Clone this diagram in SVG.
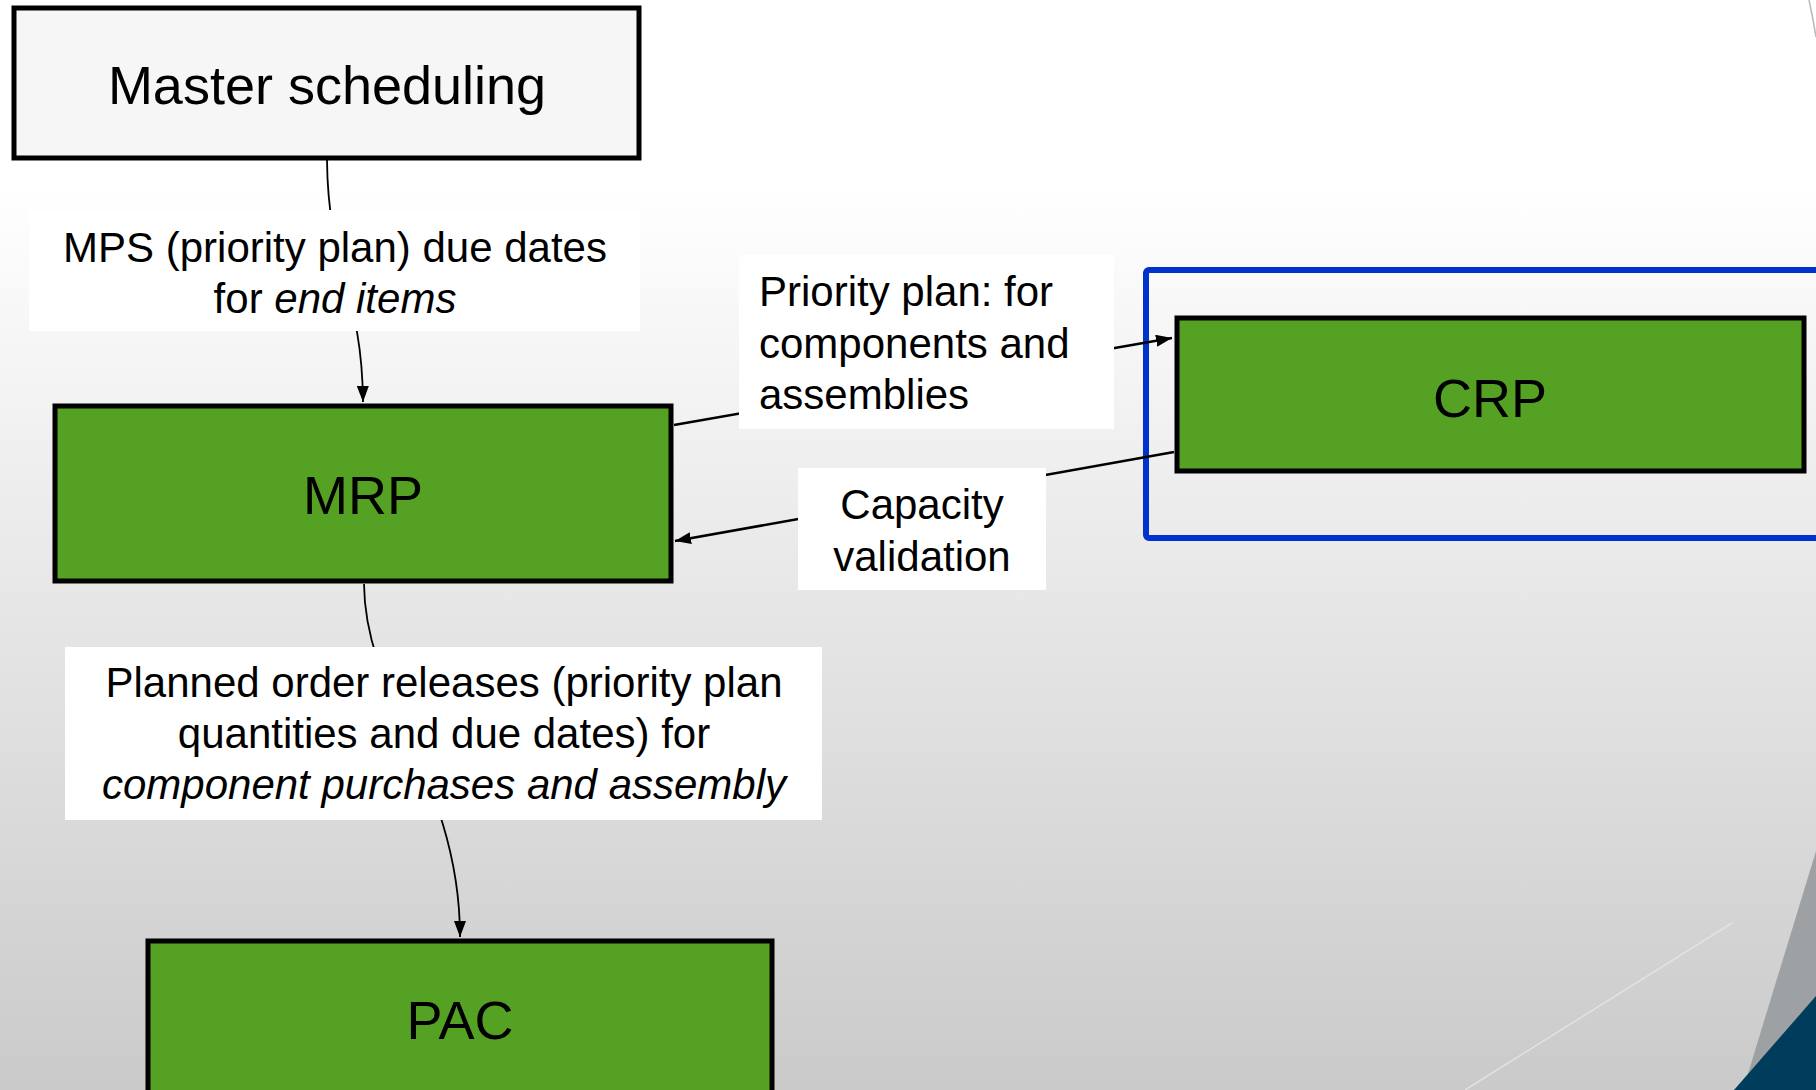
<svg xmlns="http://www.w3.org/2000/svg" width="1816" height="1090" viewBox="0 0 1816 1090">
<defs>
<linearGradient id="bg" x1="0" y1="0" x2="0" y2="1">
<stop offset="0" stop-color="#ffffff"/>
<stop offset="0.17" stop-color="#ffffff"/>
<stop offset="1" stop-color="#cacaca"/>
</linearGradient>
<marker id="arr" viewBox="0 0 16 12" refX="16" refY="6" markerWidth="16" markerHeight="12" markerUnits="userSpaceOnUse" orient="auto">
<path d="M0,0 L16,6 L0,12 Z" fill="#000"/>
</marker>
<style>
.node{stroke:#000;stroke-width:5}
.green{fill:#55a123}
.ntext{font-family:"Liberation Sans",Arial,sans-serif;font-size:54px;fill:#000;text-anchor:middle}
.lbl{fill:#fff}
.ltext{font-family:"Liberation Sans",Arial,sans-serif;font-size:42px;fill:#000}
.conn{fill:none;stroke:#000}
</style>
</defs>
<rect x="0" y="0" width="1816" height="1090" fill="url(#bg)"/>
<g id="decor">
<path d="M1809,0 Q1813,18 1816,37" fill="none" stroke="#b8b8b8" stroke-width="1.5"/>
<line x1="1465" y1="1090" x2="1732" y2="923" stroke="#e2e2e2" stroke-width="1.5"/>
<polygon points="1816,851 1816,1090 1743,1090" fill="#9ea1a3"/>
<polygon points="1816,996 1816,1090 1734,1090" fill="#003d5c"/>
</g>
<g id="crp-frame">
<rect x="1146" y="270" width="700" height="268" rx="3" fill="none" stroke="#0033cc" stroke-width="6"/>
</g>
<g id="connectors">
<path class="conn" stroke-width="1.8" d="M327,160 C328,270 362,290 363,402" marker-end="url(#arr)"/>
<line class="conn" stroke-width="2.5" x1="674" y1="425" x2="1172" y2="338" marker-end="url(#arr)"/>
<line class="conn" stroke-width="2.5" x1="1174" y1="452" x2="675" y2="541" marker-end="url(#arr)"/>
<path class="conn" stroke-width="1.8" d="M364,584 C365,700 460,780 460,937" marker-end="url(#arr)"/>
</g>
<g id="master-scheduling">
<rect class="node" x="14" y="8" width="625" height="150" fill="#f6f6f6"/>
<text class="ntext" x="327" y="104">Master scheduling</text>
</g>
<g id="mrp">
<rect class="node green" x="55" y="406" width="616" height="175"/>
<text class="ntext" x="363" y="514">MRP</text>
</g>
<g id="crp">
<rect class="node green" x="1177" y="318" width="627" height="153"/>
<text class="ntext" x="1490" y="417">CRP</text>
</g>
<g id="pac">
<rect class="node green" x="148" y="941" width="624" height="200"/>
<text class="ntext" x="460" y="1039">PAC</text>
</g>
<g id="label-mps">
<rect class="lbl" x="29" y="210" width="611" height="121"/>
<text class="ltext" text-anchor="middle" x="335" y="262">MPS (priority plan) due dates</text>
<text class="ltext" text-anchor="middle" x="335" y="313">for <tspan font-style="italic">end items</tspan></text>
</g>
<g id="label-priority">
<rect class="lbl" x="739" y="255" width="375" height="174"/>
<text class="ltext" x="759" y="306">Priority plan: for</text>
<text class="ltext" x="759" y="358">components and</text>
<text class="ltext" x="759" y="409">assemblies</text>
</g>
<g id="label-capacity">
<rect class="lbl" x="798" y="468" width="248" height="122"/>
<text class="ltext" text-anchor="middle" x="922" y="519">Capacity</text>
<text class="ltext" text-anchor="middle" x="922" y="571">validation</text>
</g>
<g id="label-planned">
<rect class="lbl" x="65" y="647" width="757" height="173"/>
<text class="ltext" text-anchor="middle" x="444" y="697">Planned order releases (priority plan</text>
<text class="ltext" text-anchor="middle" x="444" y="748">quantities and due dates) for</text>
<text class="ltext" text-anchor="middle" x="444" y="799" font-style="italic">component purchases and assembly</text>
</g>
</svg>
